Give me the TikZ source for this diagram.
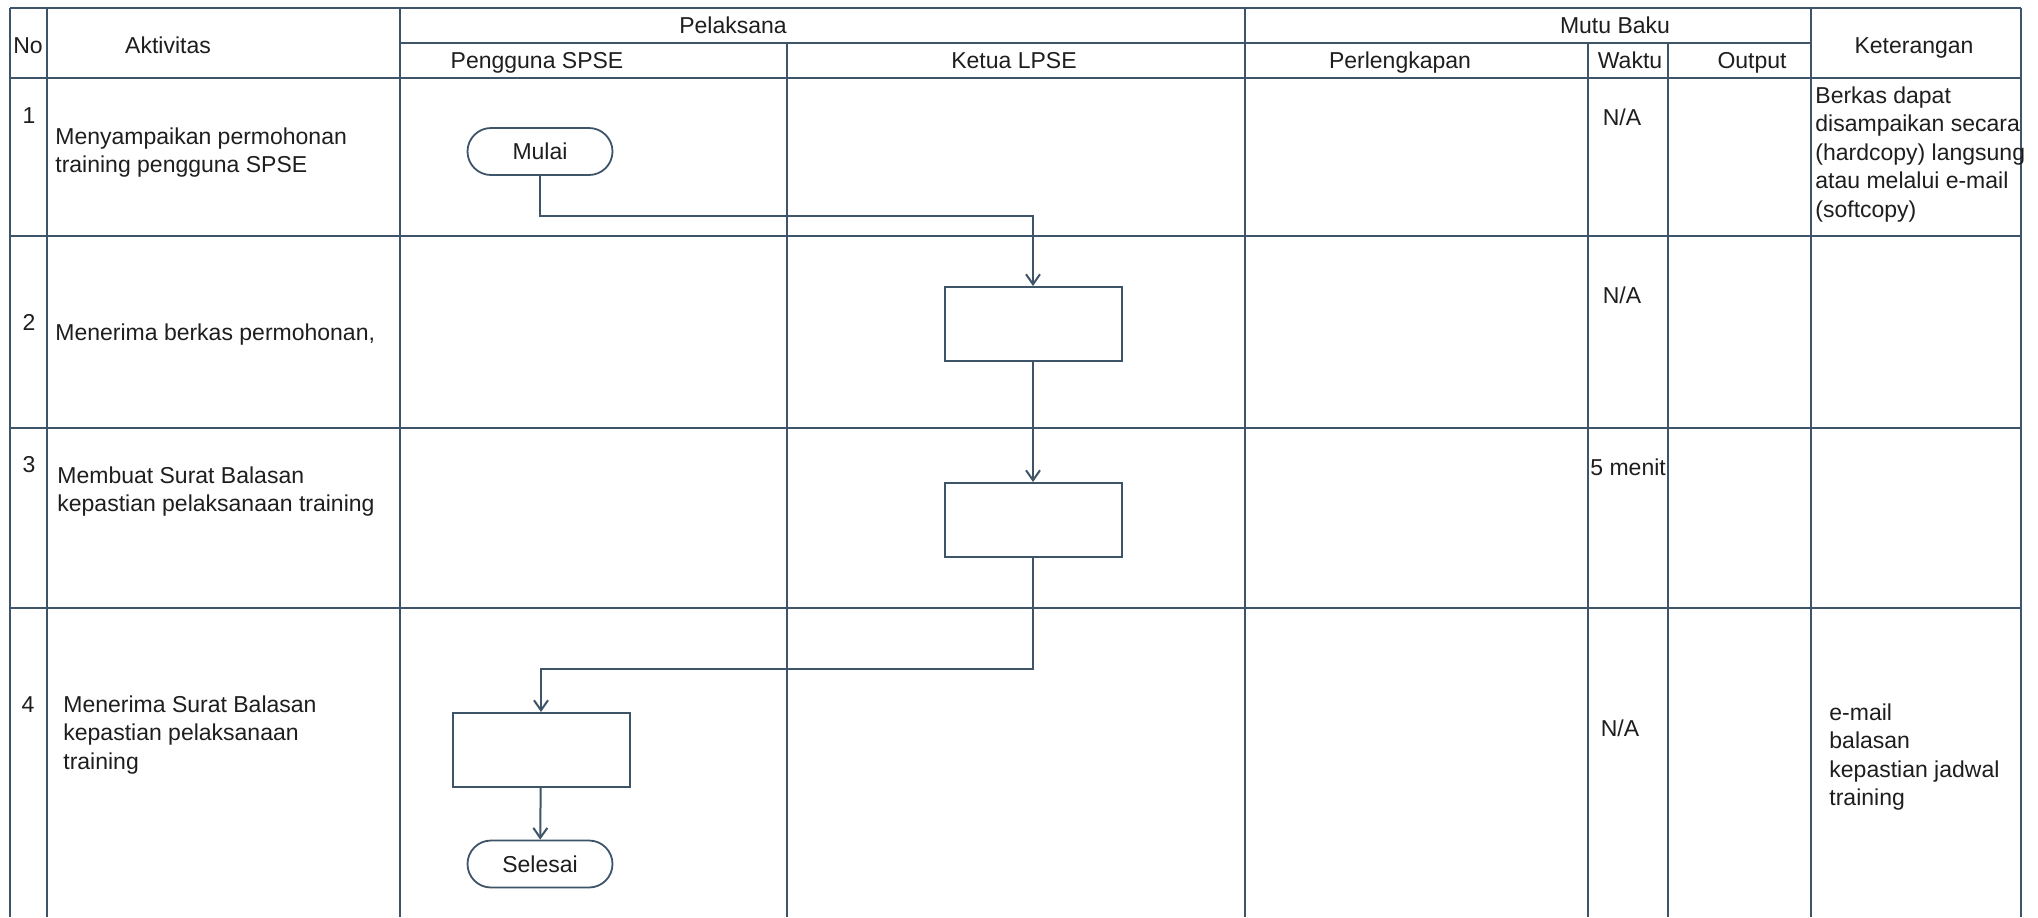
\documentclass[tikz,border=0pt]{standalone}
\usepackage{fontspec}
\setmainfont{Liberation Sans}
\usepackage{xcolor}
\usetikzlibrary{arrows.meta,positioning}
\definecolor{rulecol}{RGB}{62,84,104}
\definecolor{txtcol}{RGB}{30,30,30}

\begin{document}
\begin{tikzpicture}[
    x=0.5pt, y=-0.5pt,
    font=\fontsize{11.5}{14.25}\selectfont,
    every node/.style={text=txtcol},
    tablerule/.style={draw=rulecol, line width=1pt},
    txtblock/.style={inner sep=0pt, align=left, anchor=north west},
    txtbase/.style={inner sep=0pt, anchor=base},
    procbox/.style={rectangle, draw=rulecol, line width=1pt, minimum width=88.5pt, minimum height=37pt},
    termbox/.style={rectangle, draw=rulecol, line width=0.9pt, rounded corners=11.75pt, minimum width=72.5pt, minimum height=23.5pt},
    arrow/.style={-{Straight Barb[length=5pt,width=7pt]}, draw=rulecol, line width=1pt},
]
    \fill[white] (0,0) rectangle (2038,917);
    \useasboundingbox (0,0) rectangle (2038,917);
    % table
    \draw[tablerule] (10,8) -- (2021,8);
    \draw[tablerule] (400,43) -- (1811,43);
    \foreach \y in {78,236,428,608} \draw[tablerule] (10,\y) -- (2021,\y);
    \foreach \x in {10,47,400,1245,1811,2021} \draw[tablerule] (\x,8) -- (\x,917);
    \foreach \x in {787,1588,1668} \draw[tablerule] (\x,43) -- (\x,917);
    % header
    \node[txtbase] (hno) at (28,53) {No};
    \node[txtbase] (hakt) at (168,53) {Aktivitas};
    \node[txtbase] (hpel) at (733,33) {Pelaksana};
    \node[txtbase] (hmutu) at (1615,33) {Mutu Baku};
    \node[txtbase] (hket) at (1914,53) {Keterangan};
    \node[txtbase] (hpeng) at (537,68) {Pengguna SPSE};
    \node[txtbase] (hketua) at (1014,68) {Ketua LPSE};
    \node[txtbase] (hperl) at (1400,68) {Perlengkapan};
    \node[txtbase] (hwaktu) at (1630,68) {Waktu};
    \node[txtbase] (houtput) at (1752,68) {Output};
    % rows
    \node[txtbase] (n1) at (29,123) {1};
    \node[txtbase] (n2) at (29,330) {2};
    \node[txtbase] (n3) at (29,472) {3};
    \node[txtbase] (n4) at (28,712) {4};
    \node[txtblock] (a1) at (55,127) {Menyampaikan permohonan\\training pengguna SPSE};
    \node[txtbase, anchor=base west] (a2) at (55,340) {Menerima berkas permohonan,};
    \node[txtblock] (a3) at (57,466) {Membuat Surat Balasan\\kepastian pelaksanaan training};
    \node[txtblock] (a4) at (63,695) {Menerima Surat Balasan\\kepastian pelaksanaan\\training};
    \node[txtbase] (w1) at (1622,125) {N/A};
    \node[txtbase] (w2) at (1622,303) {N/A};
    \node[txtbase, anchor=base west] (w3) at (1590,475) {5 menit};
    \node[txtbase] (w4) at (1620,736) {N/A};
    \node[txtblock] (k1) at (1815,86) {Berkas dapat\\disampaikan secara\\(hardcopy) langsung\\atau melalui e-mail\\(softcopy)};
    \node[txtblock] (k4) at (1829,703) {e-mail\\balasan\\kepastian jadwal\\training};
    % flow
    \node[termbox] (mulai) at (540,151.5) {Mulai};
    \node[procbox] (terima) at (1033,324) {};
    \node[procbox] (balas) at (1033,520) {};
    \node[procbox] (terimabalas) at (541,750) {};
    \node[termbox] (selesai) at (540,864) {Selesai};
    \draw[arrow] (mulai.south) -- ++(0,40) -| (terima.north);
    \draw[arrow] (terima) -- (balas);
    \draw[arrow] (balas.south) -- ++(0,111) -| (terimabalas.north);
    \draw[arrow] (terimabalas) -- (selesai);
\end{tikzpicture}
\end{document}
